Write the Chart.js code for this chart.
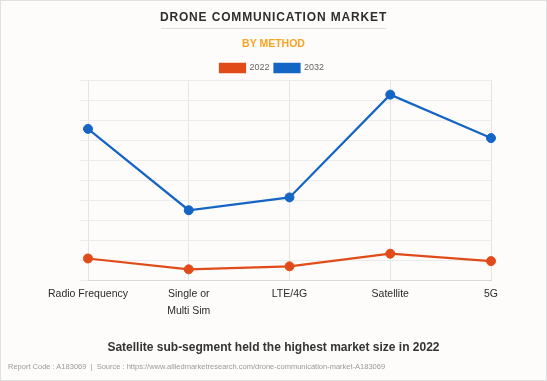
<!DOCTYPE html>
<html><head><meta charset="utf-8">
<script src="https://cdn.jsdelivr.net/npm/chart.js@4"></script>
<style>
html,body{margin:0;padding:0;background:#fdfcfa;}
#wrap{position:relative;width:547px;height:381px;overflow:hidden;font-family:"Liberation Sans",Arial,sans-serif;}
#c{position:absolute;left:0;top:0;}
#frame{position:absolute;left:0;top:0;width:547px;height:381px;box-sizing:border-box;border:1px solid #e0e0e0;pointer-events:none;}
.t{position:absolute;left:0;width:547px;text-align:center;white-space:nowrap;line-height:1;}
#title{top:11px;font-size:12px;font-weight:bold;letter-spacing:0.85px;color:#2e2e2e;}
#rule{position:absolute;top:28px;left:161px;width:225px;height:1px;background:#dedede;}
#sub{top:38px;font-size:10.5px;font-weight:bold;color:#f7a325;}
#cap{top:341px;font-size:12px;font-weight:bold;color:#333;}
#foot{position:absolute;left:8px;top:363px;font-size:7.5px;color:#9a9a9a;white-space:nowrap;line-height:1;}
</style></head>
<body>
<div id="wrap">
<canvas id="c" width="547" height="381"></canvas>
<div class="t" id="title">DRONE COMMUNICATION MARKET</div>
<div id="rule"></div>
<div class="t" id="sub">BY METHOD</div>
<div class="t" id="cap">Satellite sub-segment held the highest market size in 2022</div>
<div id="foot">Report Code : A183069 &nbsp;|&nbsp; Source : https://www.alliedmarketresearch.com/drone-communication-market-A183069</div>
<div id="frame"></div>
</div>
<script>
const categories = ['Radio Frequency', ['Single or', 'Multi Sim'], 'LTE/4G', 'Satellite', '5G'];
const seriesNames = ['2022', '2032'];
const values2022 = [109, 55, 70, 133, 96];
const values2032 = [756, 350, 414, 927, 710];
const yMin = 0, yMax = 1000, yStep = 100;

const ORANGE = '#e14b1a';
const BLUE = '#1565c4';
const font = "'Liberation Sans', Arial, sans-serif";

// move the legend row slightly lower without changing the plot area
const legendNudge = {
  id: 'legendNudge',
  afterLayout(chart) {
    const l = chart.legend;
    if (l) { l.top += 2.5; l.bottom += 2.5; }
  }
};

new Chart(document.getElementById('c'), {
  type: 'line',
  data: {
    labels: categories,
    datasets: [
      {label: seriesNames[0], data: values2022, borderColor: ORANGE, backgroundColor: ORANGE,
       pointBackgroundColor: ORANGE, pointBorderColor: ORANGE, borderWidth: 2.2, pointRadius: 4.5, pointBorderWidth: 1, tension: 0},
      {label: seriesNames[1], data: values2032, borderColor: BLUE, backgroundColor: BLUE,
       pointBackgroundColor: BLUE, pointBorderColor: BLUE, borderWidth: 2.2, pointRadius: 4.5, pointBorderWidth: 1, tension: 0}
    ]
  },
  plugins: [legendNudge],
  options: {
    responsive: false,
    animation: false,
    layout: {padding: {top: 56, left: 53, right: 56, bottom: 56}},
    plugins: {
      legend: {
        display: true, position: 'top',
        labels: {boxWidth: 25, boxHeight: 8.5, padding: 5, color: '#666', font: {family: font, size: 9}}
      },
      tooltip: {enabled: false}
    },
    scales: {
      x: {
        grid: {color: '#e4e4e4', drawTicks: false},
        border: {color: '#d8d8d8'},
        ticks: {padding: 5, color: '#2a2a2a', autoSkip: false, maxRotation: 0,
                font: {family: font, size: 10.5, lineHeight: 1.65}}
      },
      y: {
        min: yMin, max: yMax,
        ticks: {display: false, stepSize: yStep},
        grid: {color: '#ececec', tickLength: 8},
        border: {display: false},
        afterFit(scale) { scale.width = 35; }
      }
    }
  }
});
</script>
</body></html>
